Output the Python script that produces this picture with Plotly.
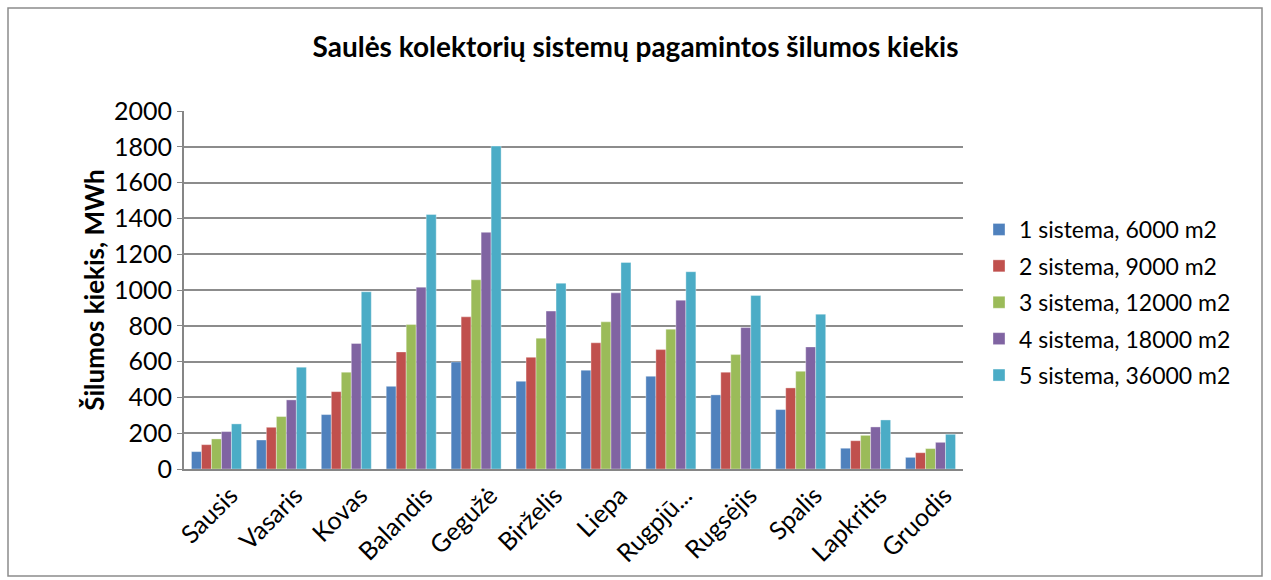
import plotly.graph_objects as go

# Months (category axis)
months = ["Sausis", "Vasaris", "Kovas", "Balandis", "Gegužė", "Birželis",
          "Liepa", "Rugpjū...", "Rugsėjis", "Spalis", "Lapkritis", "Gruodis"]

# Monthly heat output per system, MWh
sys1 = [97, 162, 304, 462, 598, 490, 552, 518, 414, 332, 116, 65]
sys2 = [136, 233, 432, 654, 850, 624, 705, 667, 541, 453, 158, 91]
sys3 = [168, 293, 541, 807, 1057, 731, 822, 781, 639, 546, 188, 114]
sys4 = [209, 386, 701, 1016, 1322, 882, 984, 943, 790, 682, 235, 149]
sys5 = [252, 569, 990, 1422, 1804, 1038, 1154, 1102, 969, 865, 274, 194]

series_names = ["1 sistema, 6000 m2", "2 sistema, 9000 m2", "3 sistema, 12000 m2",
                "4 sistema, 18000 m2", "5 sistema, 36000 m2"]
colors = ["#4F81BD", "#C0504D", "#9BBB59", "#8064A2", "#4BACC6"]

y_ticks = [0, 200, 400, 600, 800, 1000, 1200, 1400, 1600, 1800, 2000]

W, H = 1271, 580
L, R, T, B = 184, 963, 111, 469

fig = go.Figure()
for i, (name, vals, col) in enumerate(zip(series_names, [sys1, sys2, sys3, sys4, sys5], colors)):
    fig.add_trace(go.Bar(
        x=months, y=vals, name=name,
        marker=dict(color=col, line=dict(color="rgba(255,255,255,0.6)", width=0.6)),
        legendgroup=f"g{i}",
    ))

font_main = "Lato, 'Open Sans', sans-serif"

fig.update_layout(
    width=W, height=H,
    margin=dict(l=L, r=W - R, t=T, b=H - B, autoexpand=False),
    paper_bgcolor="white", plot_bgcolor="white",
    barmode="group", bargap=0.23, bargroupgap=0.0,
    font=dict(family=font_main, size=24, color="black"),
    title=dict(
        text="<b>Saulės kolektorių sistemų pagamintos šilumos kiekis</b>",
        x=0.5, xref="container", xanchor="center",
        y=1 - 47 / H, yref="container", yanchor="middle",
        font=dict(size=28, family=font_main, color="black"),
    ),
    legend=dict(
        x=(979 - L) / (R - L), xanchor="left",
        y=1 - (208 - T) / (B - T), yanchor="top",
        font=dict(size=23, family=font_main),
        tracegroupgap=3.5, itemwidth=30,
        bgcolor="rgba(0,0,0,0)",
    ),
    showlegend=True,
)

fig.update_xaxes(
    type="category", tickangle=-45, showgrid=False,
    showline=True, linecolor="#868686", linewidth=2,
    ticks="", tickfont=dict(size=25, family=font_main),
    ticklabelshift=14,
)
fig.update_yaxes(
    range=[0, 2000], tickvals=y_ticks, ticktext=[str(v) for v in y_ticks],
    showgrid=True, gridcolor="#8C8C8C", gridwidth=2,
    showline=True, linecolor="#868686", linewidth=2,
    ticks="outside", ticklen=5, tickcolor="#868686",
    tickfont=dict(size=25, family=font_main),
    title=dict(text="<b>Šilumos kiekis, MWh</b>", font=dict(size=26, family=font_main), standoff=2),
    zeroline=False,
)

# outer chart frame
fig.add_shape(
    type="rect", xref="paper", yref="paper",
    x0=(8 - L) / (R - L), x1=(1262 - L) / (R - L),
    y0=1 - (576 - T) / (B - T), y1=1 - (8 - T) / (B - T),
    line=dict(color="#8C8C8C", width=1.5), fillcolor="rgba(0,0,0,0)", layer="below",
)

fig.write_html("out.html")
